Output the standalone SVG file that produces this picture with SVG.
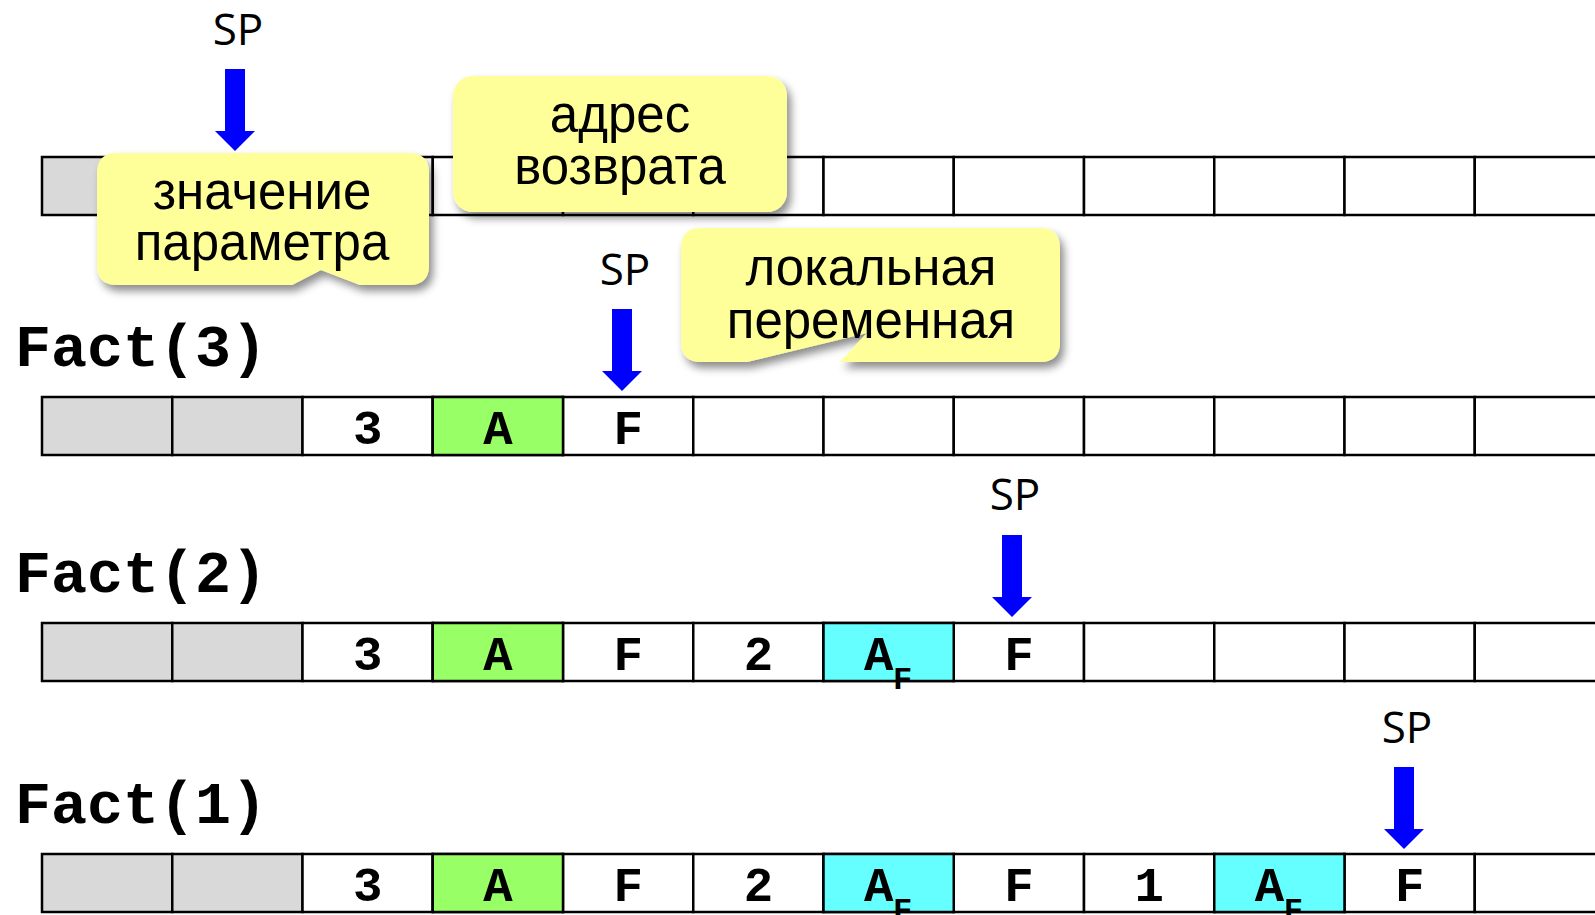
<svg xmlns="http://www.w3.org/2000/svg" width="1595" height="915" viewBox="0 0 1595 915">
<style>
.c{stroke:#000;stroke-width:2.5;fill:#fff}
.g{fill:#d9d9d9}
.gr{fill:#99ff66}
.cy{fill:#66ffff}
.t{font-family:"Liberation Mono","Courier New",monospace;font-weight:bold;font-size:49px;text-anchor:middle;fill:#000}
.s{font-family:"Liberation Mono","Courier New",monospace;font-weight:bold;font-size:32px;fill:#000}
.fact{font-family:"Liberation Mono","Courier New",monospace;font-weight:bold;font-size:60px;fill:#000}
.sp{font-family:"Open Sans","Noto Sans",sans-serif;font-size:44px;text-anchor:middle;fill:#000}
.arr{fill:#0000ff}
.call{fill:#ffff99;filter:url(#sh)}
.ct{font-family:"Liberation Sans",Arial,sans-serif;font-size:51px;text-anchor:middle;fill:#000}
</style>
<defs>
<filter id="sh" x="-10%" y="-10%" width="130%" height="140%">
<feDropShadow dx="4" dy="6" stdDeviation="4" flood-color="#000" flood-opacity="0.45"/>
</filter>
<g id="row">
<rect class="c g" x="42" y="0" width="130.25" height="58"/>
<rect class="c g" x="172.25" y="0" width="130.25" height="58"/>
<rect class="c" x="302.5" y="0" width="130.25" height="58"/>
<rect class="c" x="432.75" y="0" width="130.25" height="58"/>
<rect class="c" x="563" y="0" width="130.25" height="58"/>
<rect class="c" x="693.25" y="0" width="130.25" height="58"/>
<rect class="c" x="823.5" y="0" width="130.25" height="58"/>
<rect class="c" x="953.75" y="0" width="130.25" height="58"/>
<rect class="c" x="1084" y="0" width="130.25" height="58"/>
<rect class="c" x="1214.25" y="0" width="130.25" height="58"/>
<rect class="c" x="1344.5" y="0" width="130.25" height="58"/>
<rect class="c" x="1474.75" y="0" width="200" height="58"/>
</g>
</defs>

<g id="row1">
<use href="#row" y="157"/>
</g>

<g id="row2">
<use href="#row" y="397"/>
<rect class="c gr" x="432.75" y="397" width="130.25" height="58"/>
<text class="t" x="367.6" y="444">3</text>
<text class="t" x="497.9" y="444">A</text>
<text class="t" x="628.1" y="444">F</text>
</g>

<g id="row3">
<use href="#row" y="623"/>
<rect class="c gr" x="432.75" y="623" width="130.25" height="58"/>
<rect class="c cy" x="823.5" y="623" width="130.25" height="58"/>
<text class="t" x="367.6" y="670">3</text>
<text class="t" x="497.9" y="670">A</text>
<text class="t" x="628.1" y="670">F</text>
<text class="t" x="758.4" y="670">2</text>
<text class="t" x="878.6" y="670">A</text>
<text class="s" x="893" y="689">F</text>
<text class="t" x="1018.9" y="670">F</text>
</g>

<g id="row4">
<use href="#row" y="854"/>
<rect class="c gr" x="432.75" y="854" width="130.25" height="58"/>
<rect class="c cy" x="823.5" y="854" width="130.25" height="58"/>
<rect class="c cy" x="1214.25" y="854" width="130.25" height="58"/>
<text class="t" x="367.6" y="901">3</text>
<text class="t" x="497.9" y="901">A</text>
<text class="t" x="628.1" y="901">F</text>
<text class="t" x="758.4" y="901">2</text>
<text class="t" x="878.6" y="901">A</text>
<text class="s" x="893" y="920">F</text>
<text class="t" x="1018.9" y="901">F</text>
<text class="t" x="1149.1" y="901">1</text>
<text class="t" x="1269.4" y="901">A</text>
<text class="s" x="1283.8" y="920">F</text>
<text class="t" x="1409.6" y="901">F</text>
</g>

<g id="labels">
<text class="fact" x="15" y="366">Fact(3)</text>
<text class="fact" x="15" y="592">Fact(2)</text>
<text class="fact" x="15" y="823">Fact(1)</text>
</g>

<g id="connectors">
<g id="sp1"><text class="sp" x="238" y="45">SP</text><polygon class="arr" points="225,69 245,69 245,131 255,131 235,151 215,131 225,131"/></g>
<g id="sp2"><text class="sp" x="625" y="285">SP</text><polygon class="arr" points="612,309 632,309 632,371 642,371 622,391 602,371 612,371"/></g>
<g id="sp3"><text class="sp" x="1015" y="510">SP</text><polygon class="arr" points="1002,535 1022,535 1022,597 1032,597 1012,617 992,597 1002,597"/></g>
<g id="sp4"><text class="sp" x="1407" y="743">SP</text><polygon class="arr" points="1394,767 1414,767 1414,829 1424,829 1404,849 1384,829 1394,829"/></g>
</g>

<g id="callout-param">
<path class="call" d="M117,153 H409 Q429,153 429,173 V265 Q429,285 409,285 H360 L321,270 L292,285 H117 Q97,285 97,265 V173 Q97,153 117,153 Z"/>
<text class="ct" x="262" y="209">значение</text>
<text class="ct" x="262" y="260">параметра</text>
</g>

<g id="callout-addr">
<rect class="call" x="453" y="76" width="334" height="136" rx="20"/>
<text class="ct" x="620" y="132">адрес</text>
<text class="ct" x="620" y="184">возврата</text>
</g>

<g id="callout-local">
<path class="call" d="M701,228 H1040 Q1060,228 1060,248 V342 Q1060,362 1040,362 H840 L867,333 L747,362 H701 Q681,362 681,342 V248 Q681,228 701,228 Z"/>
<text class="ct" x="871" y="285">локальная</text>
<text class="ct" x="871" y="338">переменная</text>
</g>
</svg>
